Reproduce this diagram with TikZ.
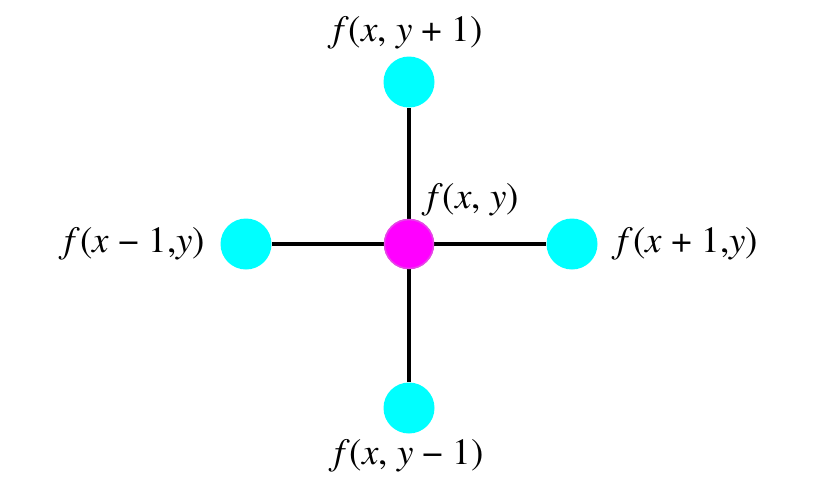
\documentclass[tikz,border=0pt]{standalone}
\usepackage{fontspec}
\newfontfamily\tms{texgyretermes}[Extension=.otf, UprightFont=*-regular, ItalicFont=*-italic]
\definecolor{nbcol}{RGB}{0,255,255}
\definecolor{ccol}{RGB}{255,0,255}
\definecolor{cbor}{RGB}{230,70,230}
\begin{document}
\begin{tikzpicture}[x=1pt,y=-1pt,
  nb/.style={circle,fill=nbcol,inner sep=0pt,minimum size=51pt},
  ctr/.style={circle,fill=ccol,draw=cbor,line width=1.5pt,inner sep=0pt,minimum size=49pt},
  lbl/.style={font=\tms\fontsize{37}{44}\selectfont,inner sep=0pt},
  edge/.style={line width=3.5pt,black}]
\useasboundingbox (0,0) rectangle (820,488);
\node[ctr] (c) at (409,244) {};
\node[nb] (t) at (409,82) {};
\node[nb] (b) at (409,408) {};
\node[nb] (l) at (246,244) {};
\node[nb] (r) at (572,244) {};
\draw[edge] (c) -- (t);
\draw[edge] (c) -- (b);
\draw[edge] (c) -- (l);
\draw[edge] (c) -- (r);
\node[ctr] at (c) {};
\node[lbl] (lt) at (408,33) {\textit{f}(\textit{x}, \textit{y} + 1)};
\node[lbl] (lc) at (473,200) {\textit{f}(\textit{x}, \textit{y})};
\node[lbl] (ll) at (135,244) {\textit{f}(\textit{x} − 1,\textit{y})};
\node[lbl] (lr) at (688,244) {\textit{f}(\textit{x} + 1,\textit{y})};
\node[lbl] (lb) at (409,456) {\textit{f}(\textit{x}, \textit{y} − 1)};
\end{tikzpicture}
\end{document}
